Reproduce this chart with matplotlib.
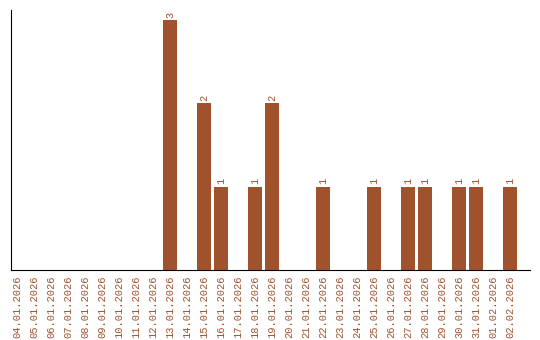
import matplotlib
matplotlib.use("Agg")
import matplotlib.pyplot as plt

dates = ["04.01.2026", "05.01.2026", "06.01.2026", "07.01.2026", "08.01.2026",
         "09.01.2026", "10.01.2026", "11.01.2026", "12.01.2026", "13.01.2026",
         "14.01.2026", "15.01.2026", "16.01.2026", "17.01.2026", "18.01.2026",
         "19.01.2026", "20.01.2026", "21.01.2026", "22.01.2026", "23.01.2026",
         "24.01.2026", "25.01.2026", "26.01.2026", "27.01.2026", "28.01.2026",
         "29.01.2026", "30.01.2026", "31.01.2026", "01.02.2026", "02.02.2026"]
counts = [0, 0, 0, 0, 0, 0, 0, 0, 0, 3,
          0, 2, 1, 0, 1, 2, 0, 0, 1, 0,
          0, 1, 0, 1, 1, 0, 1, 1, 0, 1]

color = "#A0522D"
fig = plt.figure(figsize=(5.4, 3.4), dpi=100)
ax = fig.add_axes([11/540, 70/340, 519/540, 260/340])
x = list(range(len(dates)))
ax.bar(x, counts, width=0.82, color=color)
for xi, v in zip(x, counts):
    if v > 0:
        ax.text(xi, v + 0.03, str(v), rotation=90, ha="center", va="bottom",
                color=color, fontsize=7.5, family="Liberation Mono")
ax.set_xlim(-6/17, 29 + 20/17)
ax.set_ylim(0, 260/83.3)
ax.set_xticks(x)
ax.set_xticklabels(dates, rotation=90, color=color, fontsize=7.5, family="Liberation Mono")
ax.tick_params(axis="x", length=0, pad=4)
ax.set_yticks([])
ax.spines["top"].set_visible(False)
ax.spines["right"].set_visible(False)
ax.spines["left"].set_color("black")
ax.spines["bottom"].set_color("black")
fig.savefig("out.png", dpi=100)
